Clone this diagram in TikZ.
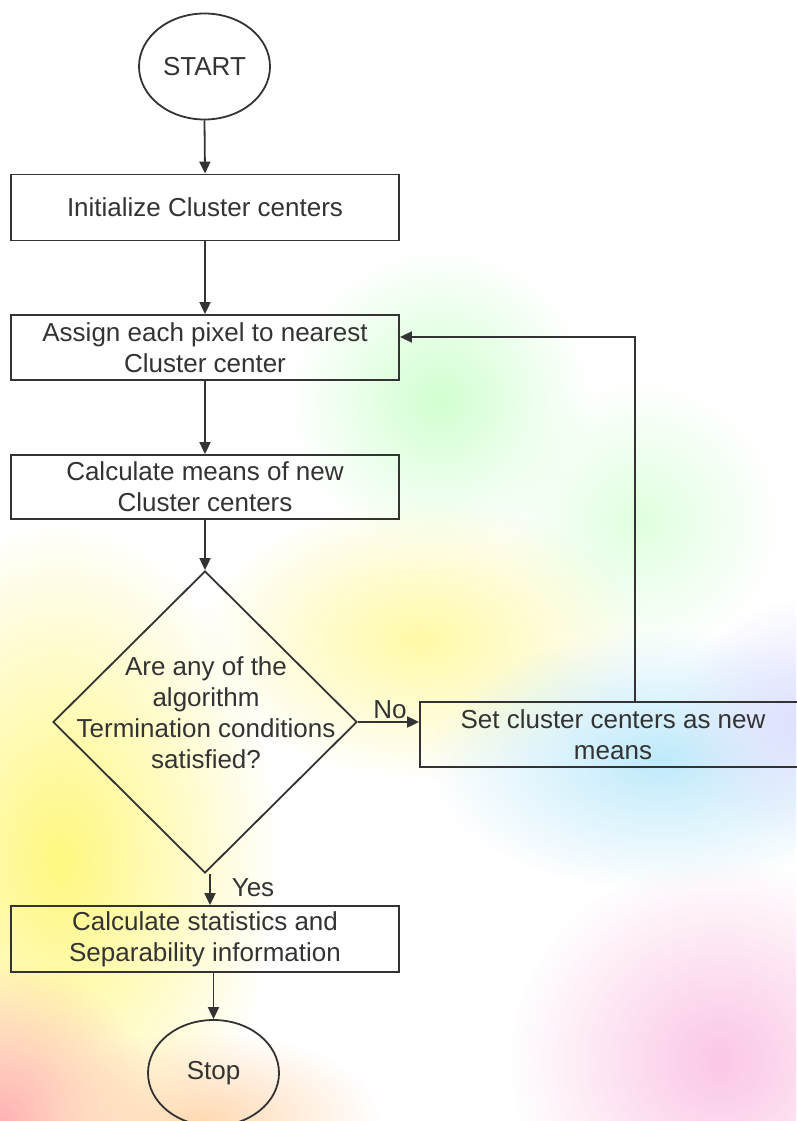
\documentclass[tikz,border=0pt]{standalone}
\usepackage{fontspec}
\setmainfont{Liberation Sans}
\usetikzlibrary{shapes.geometric,arrows.meta,fadings}
\tikzfading[name=softblob, inner color=transparent!0, outer color=transparent!100]
\begin{document}
\begin{tikzpicture}[x=1pt,y=-1pt,
  arr/.style={draw=black!80, line width=1.8pt, -{Triangle[length=12pt,width=11pt]}},
  procbox/.style={draw=black!80, line width=1.8pt, rectangle, minimum width=388pt, inner sep=0pt,
     align=center, text=black!80, font=\fontsize{26}{31}\selectfont},
  term/.style={draw=black!80, line width=1.8pt, ellipse, minimum width=131pt, minimum height=106pt, inner sep=0pt,
     text=black!80, font=\fontsize{26}{31}\selectfont},
  lbl/.style={text=black!80, font=\fontsize{26}{31}\selectfont, inner sep=0pt},
  blob/.style={path fading=softblob}
]
\useasboundingbox (0,0) rectangle (796,1121);
\fill[white] (0,0) rectangle (796,1121);
% faint background watermark
\begin{scope}
\clip (0,0) rectangle (796,1121);
\fill[blob, green!18!white] (440,400) circle (150);
\fill[blob, green!12!white] (640,520) circle (140);
\fill[blob, yellow!50!white] (60,860) ellipse (220 and 340);
\fill[blob, yellow!35!white] (420,640) ellipse (220 and 140);
\fill[blob, cyan!25!white] (660,760) ellipse (230 and 130);
\fill[blob, blue!12!white] (800,720) circle (120);
\fill[blob, magenta!22!white] (720,1060) ellipse (210 and 200);
\fill[blob, red!30!white] (0,1121) circle (160);
\fill[blob, orange!30!white] (200,1121) ellipse (180 and 90);
\end{scope}

\node[term] (start) at (204.5,66.5) {START};
\node[procbox, minimum height=66pt] (b1) at (205,207.5) {Initialize Cluster centers};
\node[procbox, minimum height=65pt] (b2) at (205,347.5) {Assign each pixel to nearest\\Cluster center};
\node[procbox, minimum height=64pt] (b3) at (205,487) {Calculate means of new\\Cluster centers};
\node[draw=black!80, line width=1.8pt, diamond, minimum width=304pt, minimum height=302pt, inner sep=0pt] (dia) at (205,722) {};
\node[lbl, align=center] (diatext) at (206,712.5) {Are any of the\\algorithm\\Termination conditions\\satisfied?};
\node[procbox, minimum width=386pt, minimum height=65pt] (b4) at (613,734.5) {Set cluster centers as new\\means};
\node[procbox, minimum height=66pt] (b5) at (205,939) {Calculate statistics and\\Separability information};
\node[term] (stop) at (213.5,1073) {Stop};

\node[lbl] (no) at (390,710) {No};
\node[lbl] (yes) at (253,888) {Yes};

\coordinate (fbtop) at (635,337);
\coordinate (yesx) at (210,0);

\draw[arr] (start.south) -- (b1.north);
\draw[arr] (b1.south) -- (b2.north);
\draw[arr] (b2.south) -- (b3.north);
\draw[arr] (b3.south) -- (dia.north);
\draw[arr] (dia.east) -- (b4.west |- dia.east);
\draw[arr] (yesx |- dia.south) -- (yesx |- b5.north);
\draw[arr] (stop.north |- b5.south) -- (stop.north);
\draw[arr] (fbtop |- b4.north) -- (fbtop) -- (b2.east |- fbtop);
\end{tikzpicture}
\end{document}
